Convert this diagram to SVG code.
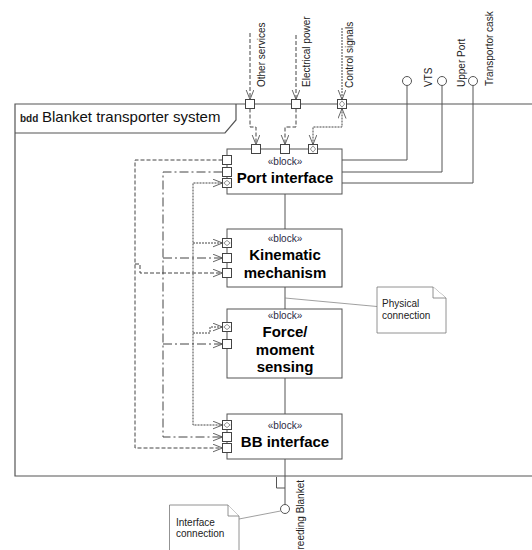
<svg xmlns="http://www.w3.org/2000/svg" width="532" height="550" viewBox="0 0 532 550">
<defs>
<style>
.frame{fill:none;stroke:#555;stroke-width:1.2}
.blk{fill:#fff;stroke:#555;stroke-width:1}
.port{fill:#fff;stroke:#444;stroke-width:1}
.fp{fill:none;stroke:#777;stroke-width:0.8}
.solid{fill:none;stroke:#555;stroke-width:1}
.dash{fill:none;stroke:#444;stroke-width:1;stroke-dasharray:4 2}
.dashdot{fill:none;stroke:#444;stroke-width:1;stroke-dasharray:9 3 2 3}
.dot{fill:none;stroke:#444;stroke-width:1;stroke-dasharray:2 1}
.note{fill:#fff;stroke:#777;stroke-width:0.8}
.anno{fill:none;stroke:#888;stroke-width:0.8}
.lol{fill:#fff;stroke:#555;stroke-width:1}
text{font-family:"Liberation Sans",Arial,sans-serif}
.st{font-size:10px;fill:#2b2b44;text-anchor:middle}
.nm{font-size:15px;font-weight:bold;fill:#000;text-anchor:middle}
.lbl{font-size:10px;fill:#222}
</style>
<marker id="arr" markerWidth="12" markerHeight="10" refX="10" refY="4" orient="auto-start-reverse" markerUnits="userSpaceOnUse"><path d="M0,0 L10,4 L0,8" fill="none" stroke="#555" stroke-width="0.9"/></marker>
</defs>
<rect width="532" height="550" fill="#fff"/>
<g id="frame">
<path class="frame" d="M532,104 H15 V476 H532"/>
<path class="frame" d="M15,133 H225 L236,120 V104"/>
<text x="20" y="122" font-size="10" font-weight="bold" fill="#222">bdd</text>
<text x="42" y="122" font-size="15" fill="#111">Blanket transporter system</text>
</g>
<g id="labels">
<text class="lbl" transform="translate(265,87) rotate(-90)">Other services</text>
<text class="lbl" transform="translate(309.5,87) rotate(-90)">Electrical power</text>
<text class="lbl" transform="translate(353,88) rotate(-90)">Control signals</text>
<text class="lbl" transform="translate(431.5,87) rotate(-90)">VTS</text>
<text class="lbl" transform="translate(465,87) rotate(-90)">Upper Port</text>
<text class="lbl" transform="translate(493,86) rotate(-90)">Transportor cask</text>
<text class="lbl" text-anchor="end" transform="translate(304,480) rotate(-90)">reeding Blanket</text>
</g>
<g id="connectors">
<path class="dash" d="M250,33 V99.5" marker-end="url(#arr)"/>
<path class="dash" d="M296,35 V99.5" marker-end="url(#arr)"/>
<path class="dot" d="M342,28 V99.5" marker-end="url(#arr)"/>
<path class="dash" d="M250,108.5 V127 H256 V144.5" marker-end="url(#arr)"/>
<path class="dash" d="M296,108.5 V127 H285 V144.5" marker-end="url(#arr)"/>
<path class="dot" d="M342,108.5 V127 H313 V144.5" marker-start="url(#arr)" marker-end="url(#arr)"/>
<path class="solid" d="M342,160 H407 V85.5"/>
<path class="solid" d="M342,172 H442 V85.5"/>
<path class="solid" d="M342,183 H473 V85.5"/>
<circle class="lol" cx="407" cy="81" r="4.5"/>
<circle class="lol" cx="442" cy="81" r="4.5"/>
<circle class="lol" cx="473" cy="81" r="4.5"/>
<path class="dash" d="M222.5,160 H135 V448 H222.5" marker-end="url(#arr)"/>
<path class="dash" d="M135,264 H140 V273 H222.5" marker-end="url(#arr)"/>
<path class="dashdot" d="M222.5,172 H163 V437 H222.5" marker-end="url(#arr)"/>
<path class="dashdot" d="M163,258 H222.5" marker-end="url(#arr)"/>
<path class="dashdot" d="M163,344 H222.5" marker-end="url(#arr)"/>
<path class="dot" d="M222.5,183 H193 V425 H222.5" marker-start="url(#arr)" marker-end="url(#arr)"/>
<path class="dot" d="M193,243 H222.5" marker-end="url(#arr)"/>
<path class="dot" d="M193,333 H210 V327 H222.5" marker-end="url(#arr)"/>
<path class="solid" d="M285,194 V229 M285,287 V309 M285,378 V414 M285,459 V504.5"/>
<circle class="lol" cx="285" cy="509" r="4.5"/>
<path class="solid" d="M276.5,477 V488 H285"/>
<path class="anno" d="M285,298 L377,306.5"/>
<path class="anno" d="M280.5,511 L239,519"/>
</g>
<g id="frame-ports">
<rect class="port" x="245.5" y="99.5" width="9" height="9"/>
<rect class="port" x="291.5" y="99.5" width="9" height="9"/>
<rect class="port" x="337.5" y="99.5" width="9" height="9"/>
<path class="fp" d="M342,100.8 L344.6,104 L342,107.2 L339.4,104 Z"/>
</g>
<g id="port-interface">
<rect class="blk" x="227" y="149" width="115" height="45"/>
<rect class="port" x="251.5" y="144.5" width="9" height="9"/>
<rect class="port" x="280.5" y="144.5" width="9" height="9"/>
<rect class="port" x="308.5" y="144.5" width="9" height="9"/>
<path class="fp" d="M313,145.8 L315.6,149 L313,152.2 L310.4,149 Z"/>
<rect class="port" x="222.5" y="155.5" width="9" height="9"/>
<rect class="port" x="222.5" y="167.5" width="9" height="9"/>
<rect class="port" x="222.5" y="178.5" width="9" height="9"/>
<path class="fp" d="M223.8,183 L227,180.4 L230.2,183 L227,185.6 Z"/>
<text class="st" x="285" y="165">«block»</text>
<text class="nm" x="285" y="183">Port interface</text>
</g>
<g id="kinematic-mechanism">
<rect class="blk" x="227" y="229" width="115" height="58"/>
<rect class="port" x="222.5" y="238.5" width="9" height="9"/>
<path class="fp" d="M223.8,243 L227,240.4 L230.2,243 L227,245.6 Z"/>
<rect class="port" x="222.5" y="253.5" width="9" height="9"/>
<rect class="port" x="222.5" y="268.5" width="9" height="9"/>
<text class="st" x="285" y="242">«block»</text>
<text class="nm" x="285" y="260">Kinematic</text>
<text class="nm" x="285" y="278">mechanism</text>
</g>
<g id="force-moment-sensing">
<rect class="blk" x="227" y="309" width="115" height="69"/>
<rect class="port" x="222.5" y="322.5" width="9" height="9"/>
<path class="fp" d="M223.8,327 L227,324.4 L230.2,327 L227,329.6 Z"/>
<rect class="port" x="222.5" y="339.5" width="9" height="9"/>
<text class="st" x="285" y="319">«block»</text>
<text class="nm" x="285" y="337">Force/</text>
<text class="nm" x="285" y="355">moment</text>
<text class="nm" x="285" y="372">sensing</text>
</g>
<g id="bb-interface">
<rect class="blk" x="227" y="414" width="115" height="45"/>
<rect class="port" x="222.5" y="420.5" width="9" height="9"/>
<path class="fp" d="M223.8,425 L227,422.4 L230.2,425 L227,427.6 Z"/>
<rect class="port" x="222.5" y="432.5" width="9" height="9"/>
<rect class="port" x="222.5" y="443.5" width="9" height="9"/>
<text class="st" x="285" y="429">«block»</text>
<text class="nm" x="285" y="447">BB interface</text>
</g>
<g id="note-physical">
<path class="note" d="M377,287 H433 L446,298 V333 H377 Z"/>
<path class="note" d="M433,287 V298 H446"/>
<text class="lbl" x="382" y="307">Physical</text>
<text class="lbl" x="382" y="319">connection</text>
</g>
<g id="note-interface">
<path class="note" d="M169.5,505 H228 L239,516 V556 H169.5 Z"/>
<path class="note" d="M228,505 V516 H239"/>
<text class="lbl" x="176" y="525.5">Interface</text>
<text class="lbl" x="176" y="537">connection</text>
</g>
</svg>
